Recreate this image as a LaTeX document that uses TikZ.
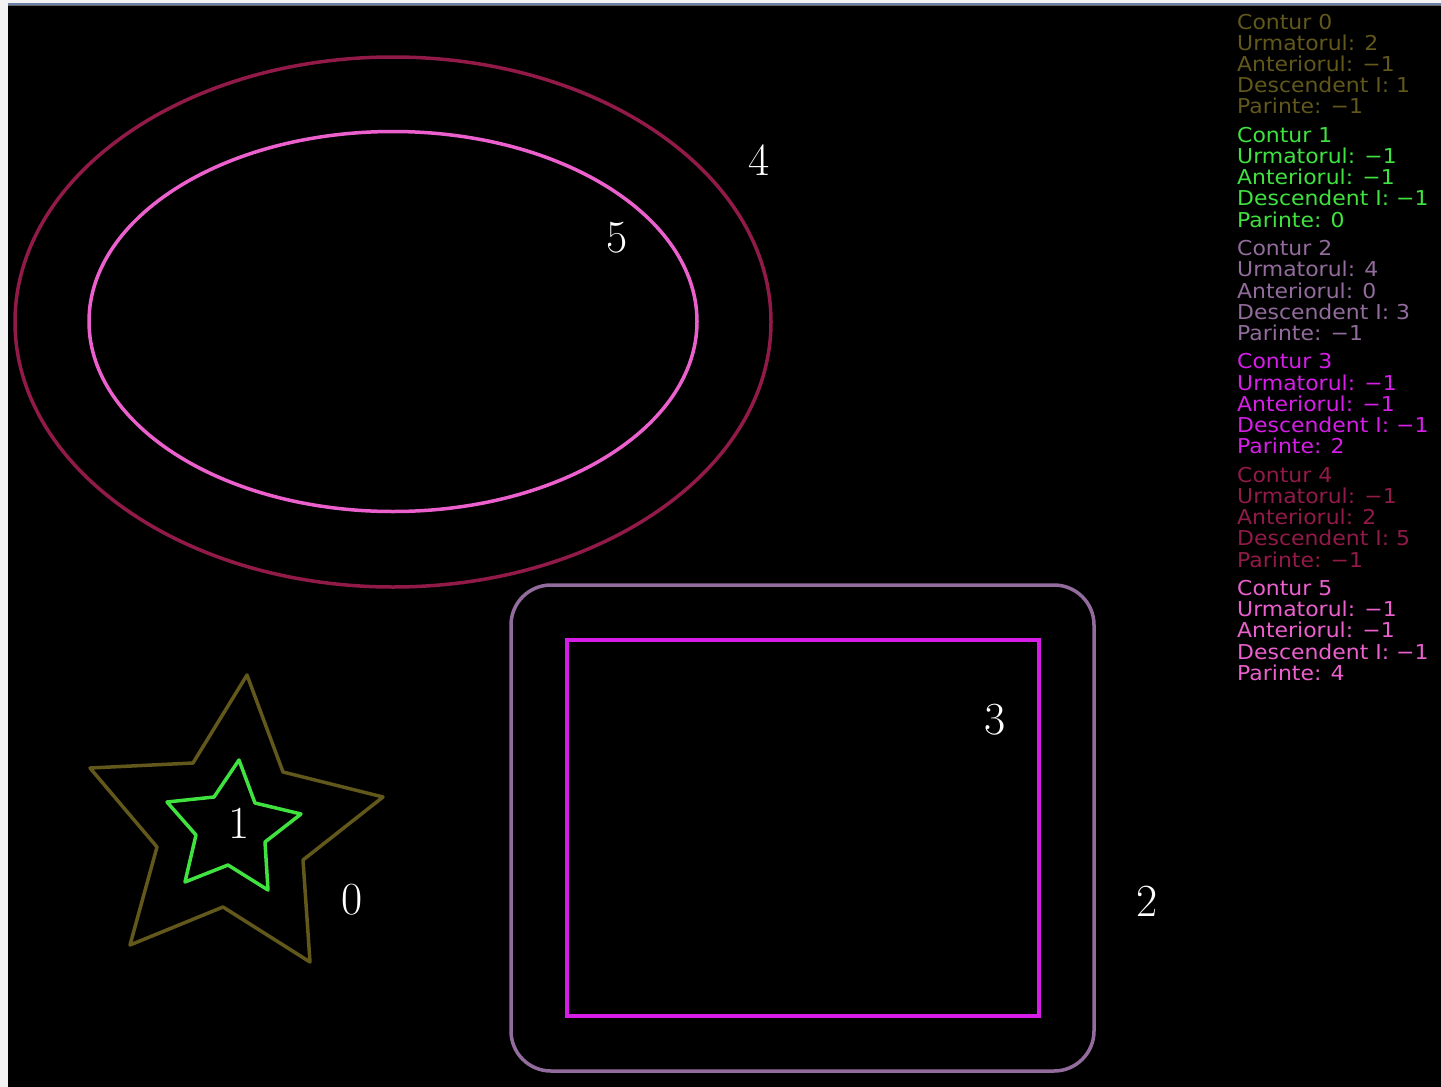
\documentclass[tikz,border=0pt]{standalone}
\usepackage{fontspec}
\newfontfamily\hershey[FakeStretch=1.07]{DejaVu Sans}
\definecolor{colA}{RGB}{98,88,28}
\definecolor{colB}{RGB}{64,226,64}
\definecolor{colC}{RGB}{146,108,156}
\definecolor{colD}{RGB}{214,30,232}
\definecolor{colE}{RGB}{146,26,72}
\definecolor{colF}{RGB}{236,96,206}
\definecolor{edgegray}{RGB}{243,243,243}
\definecolor{edgeblue}{RGB}{108,128,168}
\begin{document}
\begin{tikzpicture}[x=1pt,y=-1pt,
  contour/.style={line width=3.5pt,line join=round},
  numlabel/.style={text=white,font=\fontsize{46}{46}\selectfont,inner sep=0pt},
  info/.style={anchor=base west,inner sep=0pt,font=\hershey\fontsize{20.5}{20.5}\selectfont}]
\useasboundingbox (0,0) rectangle (1441,1087);
\fill[black] (0,0) rectangle (1441,1087);
\fill[edgegray] (0,0) rectangle (8,1087);
\fill[edgegray] (0,0) rectangle (1441,3);
\fill[edgeblue] (8,3) rectangle (1441,5);
\fill[black!60] (8,5) rectangle (1441,6);
% ellipses
\draw[contour,colE] (393,322) ellipse [x radius=378,y radius=265];
\draw[contour,colF] (393,321.5) ellipse [x radius=304,y radius=190];
% rectangles
\draw[contour,colC,rounded corners=40pt] (511,585) rectangle (1094,1071);
\draw[contour,colD,line join=miter] (567,640) rectangle (1039,1016);
% stars
\draw[contour,colA] (247,675) -- (283,772) -- (383,797) -- (303,860) -- (310,962) -- (223,907) -- (130,945) -- (157,847) -- (90,768) -- (193,763) -- cycle;
\draw[contour,colB] (239,760) -- (255,803) -- (301,814) -- (265,842) -- (268,890) -- (228,865) -- (185,882) -- (196,835) -- (167,802) -- (214,797) -- cycle;
% labels
\node[numlabel] (l4) at (759,160) {4};
\node[numlabel] (l5) at (617,238) {5};
\node[numlabel] (l3) at (995,720) {3};
\node[numlabel] (l2) at (1147,901) {2};
\node[numlabel] (l1) at (239,823) {1};
\node[numlabel] (l0) at (352,900) {0};
% info text
\foreach \k/\c/\u/\a/\d/\p [count=\i from 0] in {0/colA/2/−1/1/−1, 1/colB/−1/−1/−1/0, 2/colC/4/0/3/−1, 3/colD/−1/−1/−1/2, 4/colE/−1/2/5/−1, 5/colF/−1/−1/−1/4}{
  \pgfmathsetmacro{\yb}{29+113.3*\i}
  \node[info,text=\c] (c\k) at (1237,\yb) {Contur \k};
  \node[info,text=\c] (u\k) at (1237,\yb+21.2) {Urmatorul: \u};
  \node[info,text=\c] (a\k) at (1237,\yb+42.4) {Anteriorul: \a};
  \node[info,text=\c] (d\k) at (1237,\yb+63.6) {Descendent I: \d};
  \node[info,text=\c] (p\k) at (1237,\yb+84.8) {Parinte: \p};
}
\end{tikzpicture}
\end{document}
